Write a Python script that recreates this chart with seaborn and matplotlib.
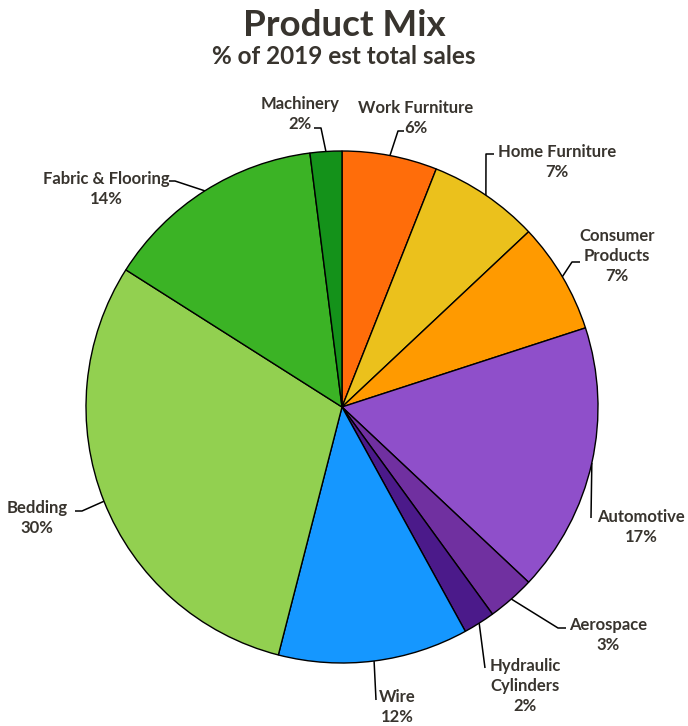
import numpy as np
import matplotlib
matplotlib.use("Agg")
import matplotlib.pyplot as plt
import seaborn as sns

# Share of 2019 estimated total sales, clockwise from 12 o'clock
categories = ["Work Furniture", "Home Furniture", "Consumer\nProducts", "Automotive",
              "Aerospace", "Hydraulic\nCylinders", "Wire", "Bedding",
              "Fabric & Flooring", "Machinery"]
shares = [6, 7, 7, 17, 3, 2, 12, 30, 14, 2]
colors = ["#FF6D0A", "#EBC11C", "#FF9A00", "#8F4FCA", "#7030A0", "#4B1A8A",
          "#1597FF", "#92D050", "#3BB325", "#14921A"]

sns.set_theme(style="white")
plt.rcParams["font.family"] = ["Lato", "DejaVu Sans"]
TXT = "#38342E"

W, H = 688, 726
fig = plt.figure(figsize=(W / 100, H / 100), dpi=100)
ax = fig.add_axes([0, 0, 1, 1])

cx, cy, r = 342, H - 407, 256
wedges, _ = ax.pie(shares, colors=sns.color_palette(colors), startangle=90,
                   counterclock=False, center=(cx, cy), radius=r,
                   wedgeprops=dict(edgecolor="black", linewidth=1.0),
                   frame=True)
ax.set_xlim(0, W)
ax.set_ylim(0, H)
ax.set_aspect("equal")
ax.axis("off")

# label anchor (text centre), leader elbow, leader end
layout = {
    "Machinery": ((300, 114), (321, 128), (314, 128)),
    "Work Furniture": ((416, 118), (398, 131), (404, 131)),
    "Home Furniture": ((557, 162), (486, 154), (494, 154)),
    "Consumer\nProducts": ((617, 256), (572, 262), (580, 262)),
    "Automotive": ((641, 527), (591, 518), (591, 518)),
    "Aerospace": ((608, 635), (558, 628), (566, 628)),
    "Hydraulic\nCylinders": ((525, 686), (485, 668), (485, 668)),
    "Wire": ((397, 707), (376, 700), (376, 700)),
    "Bedding": ((37, 518), (82, 511), (75, 511)),
    "Fabric & Flooring": ((106, 189), (175, 181), (169, 181)),
}

for w, name, val in zip(wedges, categories, shares):
    mid = np.deg2rad((w.theta1 + w.theta2) / 2)
    ex, ey = cx + r * np.cos(mid), cy + r * np.sin(mid)
    (tx, ty), (bx, by), (fx, fy) = layout[name]
    ax.plot([ex, bx, fx], [ey, H - by, H - fy], color="black", lw=1.1,
            solid_capstyle="butt", zorder=1)
    ax.text(tx, H - ty, f"{name}\n{val}%", ha="center", va="center",
            fontsize=12, fontweight="bold", color=TXT, linespacing=1.3)

fig.text(0.5, 1 - 25 / H, "Product Mix", ha="center", va="center",
         fontsize=26.5, fontweight="bold", color=TXT)
fig.text(0.5, 1 - 56 / H, "% of 2019 est total sales", ha="center", va="center",
         fontsize=17.5, fontweight="bold", color=TXT)

fig.savefig("out.png", dpi=100, facecolor="white")
